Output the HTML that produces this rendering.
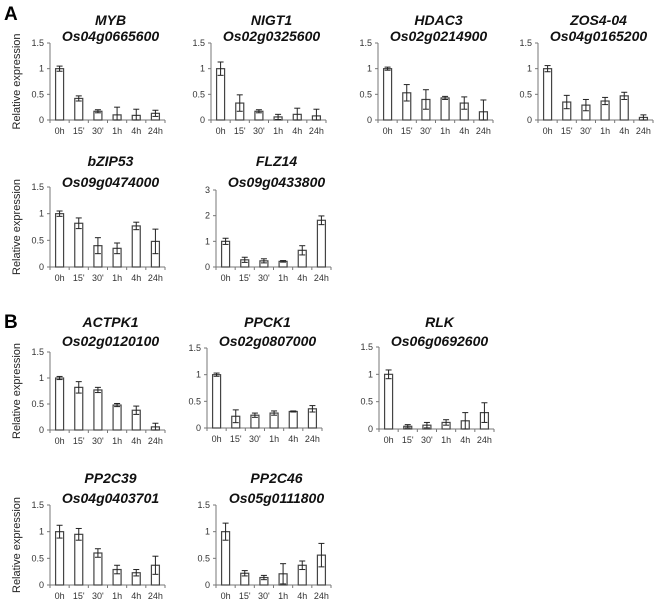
<!DOCTYPE html>
<html><head><meta charset="utf-8">
<style>
body{margin:0;background:#fff;}
svg{display:block;font-family:"Liberation Sans",Arial,sans-serif;}
.tick{font-size:9px;fill:#333;}
.title{font-size:14px;font-weight:bold;font-style:italic;fill:#111;}
</style></head>
<body>
<svg id="chart" width="660" height="602" viewBox="0 0 660 602">
<text x="4" y="20" font-size="19" font-weight="bold">A</text>
<text x="4" y="328" font-size="19" font-weight="bold">B</text>
</svg>
<script>
const categories = ["0h","15'","30'","1h","4h","24h"];
const genes = ["MYB","NIGT1","HDAC3","ZOS4-04","bZIP53","FLZ14","ACTPK1","PPCK1","RLK","PP2C39","PP2C46"];
const loci = ["Os04g0665600","Os02g0325600","Os02g0214900","Os04g0165200","Os09g0474000","Os09g0433800","Os02g0120100","Os02g0807000","Os06g0692600","Os04g0403701","Os05g0111800"];
const means = [
 [1.0,0.42,0.17,0.10,0.09,0.13],
 [1.0,0.33,0.17,0.06,0.11,0.08],
 [1.0,0.53,0.40,0.43,0.33,0.16],
 [1.0,0.35,0.29,0.37,0.47,0.05],
 [1.0,0.82,0.40,0.35,0.77,0.48],
 [1.0,0.28,0.24,0.22,0.65,1.82],
 [1.0,0.82,0.77,0.48,0.38,0.06],
 [1.0,0.22,0.24,0.28,0.31,0.36],
 [1.0,0.05,0.07,0.12,0.15,0.30],
 [1.0,0.95,0.60,0.29,0.23,0.37],
 [1.0,0.22,0.14,0.21,0.37,0.56]
];
const errors = [
 [0.05,0.05,0.03,0.15,0.12,0.06],
 [0.13,0.16,0.03,0.05,0.12,0.13],
 [0.03,0.16,0.19,0.03,0.12,0.23],
 [0.06,0.13,0.11,0.07,0.07,0.05],
 [0.05,0.10,0.15,0.10,0.07,0.23],
 [0.12,0.10,0.08,0.03,0.18,0.17],
 [0.03,0.11,0.05,0.03,0.08,0.07],
 [0.03,0.12,0.04,0.04,0.01,0.06],
 [0.08,0.03,0.05,0.05,0.15,0.18],
 [0.12,0.11,0.08,0.08,0.06,0.17],
 [0.16,0.05,0.04,0.19,0.08,0.22]
];
const yMaxes = [1.5,1.5,1.5,1.5,1.5,3,1.5,1.5,1.5,1.5,1.5];
const tickSets = [["0","0.5","1","1.5"],["0","1","2","3"]];
// layout: [axisX, topY, zeroY, titleY1, titleY2, showYLabel]
const layout = [
 [50,43,120,20,36,1],[211,43,120,20,36,0],[378,43,120,20,36,0],[538,43,120,20,36,0],
 [50,187,267,161,182,1],[216,190,267,161,182,0],
 [50,352,430,322,341,1],[207,348,428,322,341,0],[379,347,429,322,341,0],
 [50,505,585,478,498,1],[216,505,585,478,498,0]
];
const svg=document.getElementById('chart');
const NS='http://www.w3.org/2000/svg';
function mk(tag,attrs,parent){const e=document.createElementNS(NS,tag);for(const k in attrs)e.setAttribute(k,attrs[k]);(parent||svg).appendChild(e);return e;}
const W=115;
genes.forEach((g,i)=>{
  const [ax,top,zero,t1,t2,yl]=layout[i];
  const ymax=yMaxes[i];
  const grp=mk('g',{});
  
  
  const y=v=>zero-(v/ymax)*(zero-top);
  const x=j=>ax+(j+0.5)*W/categories.length;
  const cx=ax+W/2+3;
  const ti=mk('text',{x:cx,y:t1+5,'text-anchor':'middle',class:'title'},grp);ti.textContent=g;
  
  
  const tl=mk('text',{x:cx,y:t2+5,'text-anchor':'middle',class:'title'},grp);tl.textContent=loci[i];
  
  
  if(yl){const t=mk('text',{x:0,y:0,transform:`translate(20,${(top+zero)/2}) rotate(-90)`,'text-anchor':'middle','font-size':'11',fill:'#222'},grp);t.textContent='Relative expression';
    
    }
  const ticks=tickSets[ymax===3?1:0];
  ticks.forEach(tv=>{const v=parseFloat(tv);const yy=y(v);
    mk('line',{x1:ax-3,x2:ax,y1:yy,y2:yy,stroke:'#777','stroke-width':1},grp);
    const t=mk('text',{x:ax-6,y:yy+3,'text-anchor':'end',class:'tick'},grp);t.textContent=tv;
    
    });
  mk('line',{x1:ax,x2:ax,y1:top,y2:zero,stroke:'#777','stroke-width':1},grp);
  mk('line',{x1:ax,x2:ax+W,y1:zero,y2:zero,stroke:'#777','stroke-width':1},grp);
  for(let j=0;j<=categories.length;j++){const xx=ax+j*W/categories.length;mk('line',{x1:xx,x2:xx,y1:zero,y2:zero+3,stroke:'#777','stroke-width':1},grp);}
  categories.forEach((c,j)=>{
    const m=means[i][j],e=errors[i][j],xc=x(j);
    const b=mk('rect',{x:xc-4,y:y(m),width:8,height:zero-y(m),fill:'#fff',stroke:'#444','stroke-width':1.2},grp);
    
    
    const lo=Math.max(0,m-e),hi=m+e;
    mk('line',{x1:xc,x2:xc,y1:y(lo),y2:y(hi),stroke:'#222','stroke-width':1},grp);
    mk('line',{x1:xc-3,x2:xc+3,y1:y(lo),y2:y(lo),stroke:'#222','stroke-width':1},grp);
    mk('line',{x1:xc-3,x2:xc+3,y1:y(hi),y2:y(hi),stroke:'#222','stroke-width':1},grp);
    const t=mk('text',{x:xc,y:zero+14,'text-anchor':'middle',class:'tick'},grp);t.textContent=c;
    
    
  });
});
</script>
</body></html>
